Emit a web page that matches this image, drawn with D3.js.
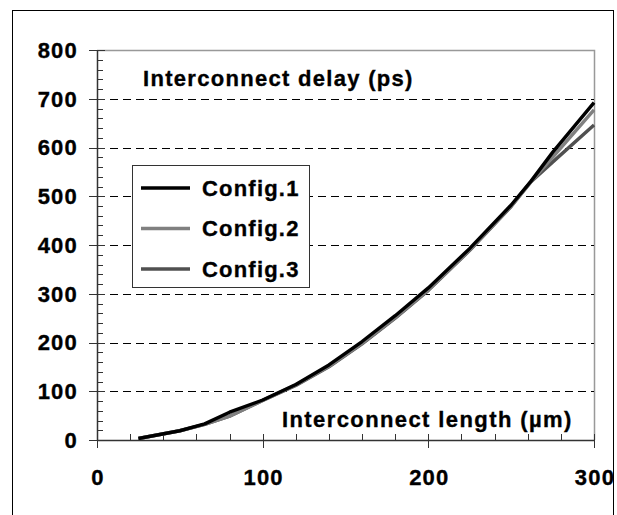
<!DOCTYPE html>
<html><head><meta charset="utf-8">
<script src="https://cdn.jsdelivr.net/npm/d3@7"></script>
<style>
body{margin:0;background:#fff;}
text{font-family:"Liberation Sans",Arial,sans-serif;font-weight:bold;fill:#000;stroke:#000;stroke-width:0.35px;}
</style></head>
<body><svg id="c" width="617" height="515"></svg>
<script>
const xValues = [25, 50, 65, 80, 100, 120, 140, 160, 180, 200, 225, 250, 262, 275, 300];
const config1 = [3, 19, 33, 57, 82, 114, 154, 202, 255, 312, 393, 482, 531, 590, 692];
const config2 = [3, 19, 32, 49, 81, 113, 151, 198, 251, 308, 390, 480, 530, 580, 677];
const config3 = [3, 19, 32, 49, 81, 112, 150, 197, 250, 307, 389, 479, 530, 570, 646];
const seriesNames = ["Config.1", "Config.2", "Config.3"];
const seriesColors = ["#000000", "#808080", "#505050"];
const xTicks = [0, 100, 200, 300];
const yTicks = [0, 100, 200, 300, 400, 500, 600, 700, 800];
const yTitle = "Interconnect delay (ps)";
const xTitle = "Interconnect length (µm)";

const svg = d3.select("#c");
svg.append("rect").attr("x",12.5).attr("y",10.5).attr("width",601).attr("height",520)
  .attr("fill","none").attr("stroke","#000").attr("stroke-width",1);

const x = d3.scaleLinear().domain([0,300]).range([97,594]);
const y = d3.scaleLinear().domain([0,800]).range([440,50]);

// plot border (top and right)
svg.append("path").attr("d",`M${x(0)},${y(800)+0.5}H${x(300)+0.5}V${y(0)}`)
  .attr("fill","none").attr("stroke","#999").attr("stroke-width",1.5);

// gridlines
svg.append("g").selectAll("line").data(yTicks.filter(d=>d>0 && d<800)).join("line")
  .attr("x1",x(0)).attr("x2",x(300)).attr("y1",d=>Math.round(y(d))+0.5).attr("y2",d=>Math.round(y(d))+0.5)
  .attr("stroke","#000").attr("stroke-width",1).attr("stroke-dasharray","8,5");

// y axis
const yMinor = d3.range(0,801,20);
const gy = svg.append("g");
gy.selectAll("line.minor").data(yMinor).join("line").attr("class","minor")
  .attr("x1",x(0)).attr("x2",x(0)+6).attr("y1",d=>Math.round(y(d))+0.5).attr("y2",d=>Math.round(y(d))+0.5)
  .attr("stroke","#333").attr("stroke-width",1);
gy.selectAll("line.major").data(yTicks).join("line").attr("class","major")
  .attr("x1",x(0)-8).attr("x2",x(0)+8).attr("y1",d=>Math.round(y(d))+0.5).attr("y2",d=>Math.round(y(d))+0.5)
  .attr("stroke","#333").attr("stroke-width",1);
gy.append("line").attr("x1",x(0)+0.5).attr("x2",x(0)+0.5).attr("y1",y(800)).attr("y2",y(0)+1)
  .attr("stroke","#333").attr("stroke-width",1.5);
gy.selectAll("text").data(yTicks).join("text")
  .attr("x",78).attr("y",d=>y(d)).attr("dy","0.36em").attr("text-anchor","end")
  .attr("font-size",22).attr("letter-spacing",1.2).text(d=>d);

// x axis
const xMinor = d3.range(0,301,20);
const gx = svg.append("g");
gx.selectAll("line.minor").data(xMinor).join("line").attr("class","minor")
  .attr("x1",d=>Math.round(x(d))+0.5).attr("x2",d=>Math.round(x(d))+0.5).attr("y1",y(0)-6).attr("y2",y(0))
  .attr("stroke","#333").attr("stroke-width",1);
gx.selectAll("line.major").data(xTicks).join("line").attr("class","major")
  .attr("x1",d=>Math.round(x(d))+0.5).attr("x2",d=>Math.round(x(d))+0.5).attr("y1",y(0)-6).attr("y2",y(0)+8)
  .attr("stroke","#333").attr("stroke-width",1);
gx.append("line").attr("x1",x(0)).attr("x2",x(300)+1).attr("y1",y(0)+0.5).attr("y2",y(0)+0.5)
  .attr("stroke","#333").attr("stroke-width",1.5);
gx.selectAll("text").data(xTicks).join("text")
  .attr("x",d=>x(d)+1).attr("y",485).attr("text-anchor","middle")
  .attr("font-size",22).attr("letter-spacing",1.2).text(d=>d);

// lines
const seriesData = [config1, config2, config3];
const line = d3.line().x((d,i)=>x(xValues[i])).y(d=>y(d));
[2,1,0].forEach(k=>{
  svg.append("path").datum(seriesData[k]).attr("d",line)
    .attr("fill","none").attr("stroke",seriesColors[k]).attr("stroke-width",3.4)
    .attr("stroke-linejoin","round");
});

// titles
svg.append("text").attr("x",143).attr("y",86).attr("font-size",22).attr("letter-spacing",1.3).text(yTitle);
svg.append("text").attr("x",282).attr("y",427).attr("font-size",22).attr("letter-spacing",1.4).text(xTitle);

// legend
const lg = svg.append("g");
lg.append("rect").attr("x",132.5).attr("y",165.5).attr("width",177).attr("height",122)
  .attr("fill","#fff").attr("stroke","#333").attr("stroke-width",1);
seriesNames.forEach((n,i)=>{
  const yy = 188 + i*40.5;
  lg.append("line").attr("x1",141).attr("x2",190).attr("y1",yy).attr("y2",yy)
    .attr("stroke",seriesColors[i]).attr("stroke-width",3.4);
  lg.append("text").attr("x",202).attr("y",yy).attr("dy","0.36em").attr("font-size",22).attr("letter-spacing",1.2).text(n);
});
</script></body></html>
